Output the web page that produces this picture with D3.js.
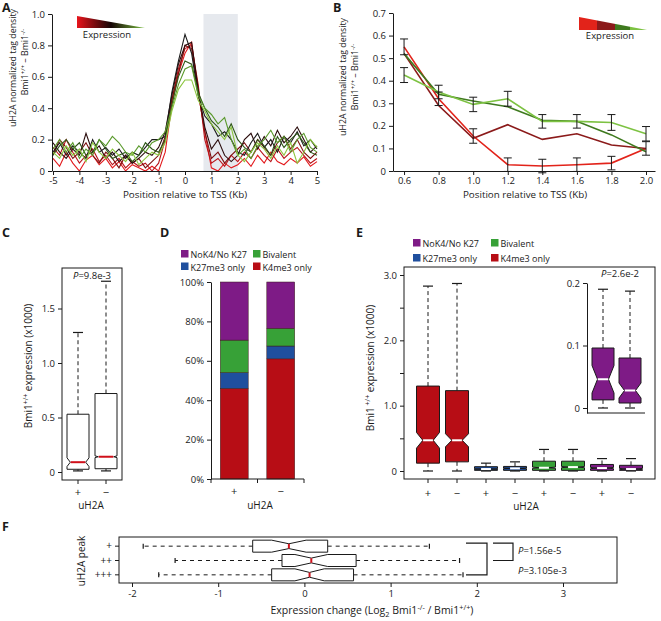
<!DOCTYPE html>
<html>
<head>
<meta charset="utf-8">
<script src="https://cdn.jsdelivr.net/npm/d3@7"></script>
<style>
  body { margin: 0; background: #fff; }
  svg { font-family: "Open Sans", sans-serif; }
</style>
</head>
<body>
<div id="chart"></div>
<script>
"use strict";

// ---- panel A : uH2A profiles around the TSS, one line per expression class
const tssPos = [-5, -4.75, -4.5, -4.25, -4, -3.75, -3.5, -3.25, -3, -2.75, -2.5, -2.25, -2, -1.75, -1.5, -1.25,
  -1, -0.75, -0.5, -0.25, 0, 0.25, 0.5, 0.75,
  1, 1.25, 1.5, 1.75, 2, 2.25, 2.5, 2.75, 3, 3.25, 3.5, 3.75, 4, 4.25, 4.5, 4.75, 5];
const profileColors = ["#e3191c", "#b8141a", "#7d0f0f", "#2a0c0c", "#1a1a1a", "#2f5719", "#5a9a2c", "#8cc63f"];
const profiles = [
  [0.08,0.03,0.12,0.05,0.0,0.07,0.1,0.04,0.08,0.02,0.06,0.0,0.04,0.02,0.0,0.03,
   0.0,0.12,0.42,0.62,0.75,0.82,0.5,0.25,
   0.02,0.0,0.05,0.02,0.04,0.08,0.03,0.1,0.05,0.12,0.06,0.04,0.08,0.05,0.09,0.03,0.06],
  [0.15,0.1,0.2,0.12,0.05,0.1,0.14,0.06,0.1,0.04,0.08,0.02,0.06,0.03,0.05,0.0,
   0.05,0.2,0.45,0.65,0.78,0.8,0.55,0.2,
   0.05,0.08,0.03,0.1,0.06,0.12,0.08,0.15,0.1,0.06,0.14,0.08,0.12,0.15,0.1,0.05,0.08],
  [0.1,0.2,0.15,0.08,0.12,0.18,0.1,0.05,0.12,0.08,0.02,0.1,0.05,0.08,0.02,0.06,
   0.1,0.22,0.45,0.62,0.8,0.78,0.5,0.25,
   0.08,0.12,0.05,0.1,0.14,0.18,0.12,0.2,0.15,0.1,0.18,0.22,0.14,0.2,0.12,0.08,0.12],
  [0.18,0.12,0.08,0.14,0.1,0.24,0.12,0.16,0.08,0.12,0.06,0.1,0.05,0.08,0.12,0.1,
   0.15,0.25,0.48,0.68,0.8,0.82,0.52,0.28,
   0.14,0.2,0.1,0.06,0.1,0.2,0.24,0.14,0.22,0.16,0.26,0.18,0.22,0.28,0.2,0.12,0.16],
  [0.12,0.18,0.1,0.16,0.12,0.08,0.2,0.12,0.15,0.1,0.14,0.08,0.12,0.1,0.15,0.2,
   0.2,0.22,0.5,0.7,0.87,0.75,0.48,0.35,
   0.3,0.22,0.25,0.2,0.12,0.1,0.18,0.24,0.15,0.2,0.12,0.22,0.18,0.25,0.16,0.2,0.14],
  [0.1,0.16,0.2,0.14,0.18,0.1,0.12,0.2,0.14,0.08,0.1,0.12,0.06,0.1,0.18,0.14,
   0.12,0.2,0.42,0.6,0.7,0.68,0.5,0.4,
   0.32,0.28,0.22,0.3,0.2,0.15,0.12,0.2,0.16,0.1,0.22,0.15,0.2,0.24,0.18,0.12,0.1],
  [0.14,0.2,0.12,0.18,0.08,0.14,0.1,0.2,0.16,0.22,0.18,0.12,0.1,0.16,0.12,0.18,
   0.2,0.25,0.4,0.55,0.65,0.67,0.48,0.4,
   0.36,0.3,0.34,0.2,0.1,0.14,0.08,0.16,0.2,0.26,0.18,0.22,0.12,0.2,0.24,0.15,0.12],
  [0.12,0.08,0.16,0.1,0.14,0.06,0.18,0.12,0.08,0.14,0.1,0.06,0.12,0.04,0.08,0.12,
   0.1,0.18,0.38,0.52,0.58,0.58,0.45,0.38,
   0.3,0.25,0.2,0.28,0.1,0.06,0.12,0.18,0.14,0.08,0.16,0.1,0.18,0.05,0.12,0.2,0.15]
];
const shadedRegion = [0.7, 2.0];
const ticksAx = [-5, -4, -3, -2, -1, 0, 1, 2, 3, 4, 5];
const ticksAy = [0, 0.2, 0.4, 0.6, 0.8, 1.0];

// ---- panel B : mean density downstream of TSS
const bPos = [0.6, 0.8, 1.0, 1.2, 1.4, 1.6, 1.8, 2.0];
const bRed        = [0.55, 0.32, 0.155, 0.028, 0.022, 0.028, 0.035, 0.10];
const bDarkRed    = [0.52, 0.29, 0.145, 0.205, 0.14, 0.165, 0.115, 0.10];
const bDarkGreen  = [0.52, 0.34, 0.31, 0.285, 0.225, 0.22, 0.16, 0.085];
const bLightGreen = [0.425, 0.35, 0.295, 0.32, 0.22, 0.22, 0.215, 0.165];
const bRedErr        = [0.035, 0.03, 0.032, 0.03, 0.03, 0.03, 0.03, 0.03];
const bLightGreenErr = [0.033, 0.03, 0.032, 0.033, 0.03, 0.03, 0.035, 0.032];
const bColors = ["#e2231a", "#8b1a1a", "#3f7a1f", "#7dc242"];
const ticksBy = [0, 0.1, 0.2, 0.3, 0.4, 0.5, 0.6, 0.7];

// ---- panel C : expression by uH2A status
const cGroups = ["+", "\u2212"];
const cLow   = [0.01, 0.01];
const cQ1    = [0.025, 0.03];
const cMed   = [0.09, 0.14];
const cQ3    = [0.53, 0.72];
const cHigh  = [1.28, 1.75];
const cNotch = [0.04, 0.008];
const ticksCy = [0, 0.5, 1.0, 1.5];

// ---- panel D : chromatin state fractions
const dGroups = ["+", "\u2212"];
const dK4   = [46, 61];
const dK27  = [8, 6.5];
const dBiv  = [16.5, 9];
const dNone = [29.5, 23.5];
const ticksDy = [0, 20, 40, 60, 80, 100];

// ---- panel E : expression per chromatin state and uH2A status
const states = ["K4me3 only", "K27me3 only", "Bivalent", "NoK4/No K27"];
const stateColors = ["#b70d15", "#1f4f9e", "#37a137", "#7e1b86"];
const eLabels = ["+", "\u2212", "+", "\u2212", "+", "\u2212", "+", "\u2212"];
const eState  = [0, 0, 1, 1, 2, 2, 3, 3];
const eLow    = [0, 0, 0, 0, 0, 0, 0, 0];
const eQ1     = [0.12, 0.14, 0.01, 0.01, 0.01, 0.01, 0.01, 0.01];
const eMed    = [0.47, 0.47, 0.03, 0.04, 0.05, 0.06, 0.045, 0.03];
const eQ3     = [1.30, 1.23, 0.066, 0.07, 0.15, 0.15, 0.10, 0.087];
const eHigh   = [2.83, 2.87, 0.12, 0.14, 0.33, 0.33, 0.19, 0.19];
const eNotch  = [0.12, 0.1, 0.005, 0.005, 0.01, 0.01, 0.01, 0.01];
const ticksEy = [0, 0.5, 1.0, 1.5, 2.0, 2.5, 3.0];
// inset (NoK4/No K27 only)
const iLow   = [0, 0];
const iQ1    = [0.013, 0.008];
const iMed   = [0.046, 0.028];
const iQ3    = [0.096, 0.08];
const iHigh  = [0.19, 0.187];
const iNotch = [0.022, 0.012];
const ticksIy = [0, 0.1, 0.2];

// ---- panel F : expression change by uH2A peak strength
const fGroups = ["+", "++", "+++"];
const fLow   = [-1.87, -1.5, -1.69];
const fQ1    = [-0.6, -0.26, -0.38];
const fMed   = [-0.18, 0.08, 0.06];
const fQ3    = [0.27, 0.6, 0.57];
const fHigh  = [1.45, 1.8, 1.84];
const fNotch = [0.2, 0.19, 0.17];
const ticksFx = [-2, -1, 0, 1, 2, 3];
const fTests = [["+", "+++", "3.105e-3"], ["+", "++", "1.56e-5"]];

const FONT = "'Open Sans', sans-serif";
const INK = "#1a1a1a";

const svg = d3.select("#chart").append("svg")
  .attr("width", 661).attr("height", 621);

function fmt1(d) { return d === 0 ? "0" : d.toFixed(1); }

function tidy(g, size) {
  g.attr("font-family", FONT).attr("font-size", null);
  g.selectAll("text").attr("font-size", size || 9.5).attr("fill", INK);
  g.selectAll("path, line").attr("stroke", INK);
}

// text made of pieces, some raised or lowered
function rich(sel, parts, size) {
  let shift = 0;
  parts.forEach(p => {
    let want = p.sup ? -size * 0.38 : (p.sub ? size * 0.25 : 0);
    let t = sel.append("tspan").text(p.t).attr("dy", want - shift);
    if (p.sup || p.sub) t.attr("font-size", size * 0.7);
    if (p.it) t.attr("font-style", "italic");
    shift = want;
  });
  return sel;
}

function label(x, y, str, opt) {
  opt = opt || {};
  return svg.append("text")
    .attr("x", x).attr("y", y)
    .attr("font-size", opt.size || 10)
    .attr("font-weight", opt.bold ? "bold" : null)
    .attr("text-anchor", opt.anchor || "middle")
    .attr("fill", INK)
    .text(str);
}

function vLabel(x, y, parts, size) {
  let t = svg.append("text")
    .attr("transform", `translate(${x},${y}) rotate(-90)`)
    .attr("font-size", size).attr("text-anchor", "middle").attr("fill", INK);
  return rich(t, parts, size);
}

// notched box, vertical or horizontal
function notchBox(g, o) {
  let c = o.c, hw = o.hw, s = o.scale, k = hw * o.inset;
  let a = s(o.q1), b = s(o.q3), m = s(o.med);
  let n1 = s(Math.max(o.med - o.notch, o.q1)), n2 = s(Math.min(o.med + o.notch, o.q3));
  let pts;
  if (o.vertical) {
    pts = [[c - hw, b], [c + hw, b], [c + hw, n2], [c + k, m], [c + hw, n1], [c + hw, a],
           [c - hw, a], [c - hw, n1], [c - k, m], [c - hw, n2]];
  } else {
    pts = [[b, c - hw], [b, c + hw], [n2, c + hw], [m, c + k], [n1, c + hw], [a, c + hw],
           [a, c - hw], [n1, c - hw], [m, c - k], [n2, c - hw]];
  }
  let P = (x, y) => o.vertical ? [x, y] : [y, x];
  // whiskers
  [[o.q3, o.high], [o.q1, o.low]].forEach(w => {
    let p1 = P(c, s(w[0])), p2 = P(c, s(w[1]));
    g.append("line").attr("x1", p1[0]).attr("y1", p1[1]).attr("x2", p2[0]).attr("y2", p2[1])
      .attr("stroke", INK).attr("stroke-dasharray", o.dash || "4,3");
    let q1 = P(c - o.cap, s(w[1])), q2 = P(c + o.cap, s(w[1]));
    g.append("line").attr("x1", q1[0]).attr("y1", q1[1]).attr("x2", q2[0]).attr("y2", q2[1])
      .attr("stroke", INK).attr("stroke-width", 1.2);
  });
  g.append("path").attr("d", "M" + pts.map(p => p.join(",")).join("L") + "Z")
    .attr("fill", o.fill).attr("stroke", INK).attr("stroke-width", 1);
  let mk = k * 0.95;
  let m1 = P(c - mk, m), m2 = P(c + mk, m);
  g.append("line").attr("x1", m1[0]).attr("y1", m1[1]).attr("x2", m2[0]).attr("y2", m2[1])
    .attr("stroke", o.medColor).attr("stroke-width", 2);
}

function wedge(g, x0, x1, y0, y1, gradId, stops) {
  let grad = svg.append("defs").append("linearGradient").attr("id", gradId);
  stops.forEach(s => {
    grad.append("stop").attr("offset", s[0]).attr("stop-color", s[1]);
  });
  g.append("polygon").attr("points", `${x0},${y0} ${x0},${y1} ${x1},${y1}`)
    .attr("fill", `url(#${gradId})`);
}

// ================= A
(function panelA() {
  const g = svg.append("g");
  const x = d3.scaleLinear().domain([-5, 5]).range([53, 317]);
  const y = d3.scaleLinear().domain([0, 1]).range([171, 14]);

  g.append("rect")
    .attr("x", x(shadedRegion[0])).attr("width", x(shadedRegion[1]) - x(shadedRegion[0]))
    .attr("y", y(1)).attr("height", y(0) - y(1))
    .attr("fill", "#e6e9ee");

  const line = d3.line().x((d, i) => x(tssPos[i])).y(d => y(d));
  profiles.forEach((p, i) => {
    g.append("path").attr("d", line(p))
      .attr("fill", "none").attr("stroke", profileColors[i]).attr("stroke-width", 1.1);
  });

  g.append("g").attr("transform", "translate(0,171)")
    .call(d3.axisBottom(x).tickValues(ticksAx).tickFormat(d => String(d)).tickSize(4).tickPadding(2).tickSizeOuter(0))
    .call(tidy);
  g.append("g").attr("transform", "translate(52,0)")
    .call(d3.axisLeft(y).tickValues(ticksAy).tickFormat(fmt1).tickSize(4).tickSizeOuter(0))
    .call(tidy);

  wedge(g, 77, 145, 16, 28, "gradA",
    [[0, "#e8141c"], [0.5, "#150505"], [1, "#7dc242"]]);
  label(107, 38, "Expression", { size: 9.5 });

  label(185, 198, "Position relative to TSS (Kb)", { size: 9.8 });
  vLabel(16, 68, [{ t: "uH2A normalized tag density" }], 8.8);
  vLabel(28, 62, [{ t: "Bmi1" }, { t: "+/+", sup: 1 }, { t: " \u2013 Bmi1" }, { t: "-/-", sup: 1 }], 8.8);
  label(2, 12, "A", { size: 12.5, bold: 1, anchor: "start" });
})();

// ================= B
(function panelB() {
  const g = svg.append("g");
  const x = d3.scaleLinear().domain([0.536, 2.052]).range([393, 655]);
  const y = d3.scaleLinear().domain([0, 0.7]).range([171, 13]);
  const line = d3.line().x((d, i) => x(bPos[i])).y(d => y(d));

  [bRed, bDarkRed, bDarkGreen, bLightGreen].forEach((s, i) => {
    g.append("path").attr("d", line(s))
      .attr("fill", "none").attr("stroke", bColors[i]).attr("stroke-width", 1.6);
  });

  [[bRed, bRedErr], [bLightGreen, bLightGreenErr]].forEach(pair => {
    pair[0].forEach((v, i) => {
      let cx = x(bPos[i]), lo = y(v - pair[1][i]), hi = y(v + pair[1][i]);
      g.append("line").attr("x1", cx).attr("x2", cx).attr("y1", lo).attr("y2", hi).attr("stroke", INK);
      [lo, hi].forEach(yy => g.append("line").attr("x1", cx - 4).attr("x2", cx + 4)
        .attr("y1", yy).attr("y2", yy).attr("stroke", INK));
    });
  });

  g.append("g").attr("transform", "translate(0,171)")
    .call(d3.axisBottom(x).tickValues(bPos).tickFormat(d => d.toFixed(1)).tickSize(4).tickPadding(2).tickSizeOuter(0))
    .call(tidy);
  g.append("g").attr("transform", "translate(393,0)")
    .call(d3.axisLeft(y).tickValues(ticksBy).tickFormat(fmt1).tickSize(4).tickSizeOuter(0))
    .call(tidy);

  wedge(g, 579, 647, 17, 30, "gradB",
    [[0, "#e2231a"], [0.27, "#e2231a"], [0.27, "#8b1a1a"], [0.53, "#8b1a1a"],
     [0.53, "#3f7a1f"], [0.75, "#3f7a1f"], [0.75, "#7dc242"], [1, "#7dc242"]]);
  label(610, 39, "Expression", { size: 9.5 });

  label(525, 198, "Position relative to TSS (Kb)", { size: 9.8 });
  vLabel(346, 77, [{ t: "uH2A normalized tag density" }], 8.8);
  vLabel(358, 77, [{ t: "Bmi1" }, { t: "+/+", sup: 1 }, { t: " \u2013 Bmi1" }, { t: "-/-", sup: 1 }], 8.8);
  label(333, 12, "B", { size: 12.5, bold: 1, anchor: "start" });
})();

// ================= C
(function panelC() {
  const g = svg.append("g");
  const y = d3.scaleLinear().domain([0, 1.5]).range([472, 308.5]);
  const x = d3.scaleBand().domain(cGroups).range([64, 120]);

  g.append("rect").attr("x", 62).attr("y", 268).attr("width", 60).attr("height", 212)
    .attr("fill", "none").attr("stroke", INK);

  cGroups.forEach((k, i) => {
    notchBox(g, {
      vertical: true, c: x(k) + x.bandwidth() / 2, hw: 11, scale: y, inset: 0.7, cap: 5,
      low: cLow[i], q1: cQ1[i], med: cMed[i], q3: cQ3[i], high: cHigh[i], notch: cNotch[i],
      fill: "#fff", medColor: "#d0101a", dash: "4,3"
    });
  });

  g.append("g").attr("transform", "translate(62,0)")
    .call(d3.axisLeft(y).tickValues(ticksCy).tickFormat(fmt1).tickSize(4).tickSizeOuter(0))
    .call(tidy).select(".domain").remove();
  g.append("g").attr("transform", "translate(0,480)")
    .call(d3.axisBottom(x).tickSize(4).tickPadding(4).tickSizeOuter(0))
    .call(tidy, 11).select(".domain").remove();

  let p = svg.append("text").attr("x", 92).attr("y", 279).attr("text-anchor", "middle")
    .attr("font-size", 9.5).attr("fill", INK);
  rich(p, [{ t: "P", it: 1 }, { t: "=9.8e-3" }], 9.5);

  label(91, 509, "uH2A", { size: 10 });
  vLabel(32, 366, [{ t: "Bmi1" }, { t: "+/+", sup: 1 }, { t: " expression (x1000)" }], 10);
  label(2, 237, "C", { size: 12.5, bold: 1, anchor: "start" });
})();

function stateLegend(x0, x1, y0, dy) {
  const order = [[3, x0, y0], [2, x1, y0], [1, x0, y0 + dy], [0, x1, y0 + dy]];
  order.forEach(o => {
    svg.append("rect").attr("x", o[1]).attr("y", o[2] - 8).attr("width", 7.5).attr("height", 7.5)
      .attr("fill", stateColors[o[0]]);
    label(o[1] + 9.5, o[2], states[o[0]], { size: 9, anchor: "start" });
  });
}

// ================= D
(function panelD() {
  const g = svg.append("g");
  const y = d3.scaleLinear().domain([0, 100]).range([479, 282]);
  const x = d3.scaleBand().domain(dGroups).range([211, 304]);
  const table = dGroups.map((k, i) => ({
    group: k, "K4me3 only": dK4[i], "K27me3 only": dK27[i], "Bivalent": dBiv[i], "NoK4/No K27": dNone[i]
  }));
  const stacked = d3.stack().keys(states)(table);
  const bw = x.bandwidth() * 0.6;

  stacked.forEach((layer, li) => {
    g.selectAll(null).data(layer).enter().append("rect")
      .attr("x", d => x(d.data.group) + (x.bandwidth() - bw) / 2)
      .attr("width", bw)
      .attr("y", d => y(d[1]))
      .attr("height", d => y(d[0]) - y(d[1]))
      .attr("fill", stateColors[li])
      .attr("stroke", "#3a1a1a").attr("stroke-width", 0.5);
  });

  g.append("g").attr("transform", "translate(211,0)")
    .call(d3.axisLeft(y).tickValues(ticksDy).tickFormat(d => d + "%").tickSize(4).tickSizeOuter(0))
    .call(tidy);
  const xa = g.append("g").attr("transform", "translate(0,479)")
    .call(d3.axisBottom(x).tickSize(0).tickPadding(8).tickSizeOuter(0))
    .call(tidy, 11);
  xa.select(".domain").attr("d", "M211,0H304");
  [211, 257.5, 304].forEach(t => xa.append("line").attr("x1", t).attr("x2", t).attr("y1", 0).attr("y2", 4)
    .attr("stroke", INK));

  label(260, 509, "uH2A", { size: 10 });
  stateLegend(181, 253, 258, 12.5);
  label(160, 237, "D", { size: 12.5, bold: 1, anchor: "start" });
})();

// ================= E
(function panelE() {
  const g = svg.append("g");
  const y = d3.scaleLinear().domain([0, 3]).range([471, 275]);
  const x = d3.scaleBand().domain(d3.range(eLabels.length)).range([413.5, 645.5]);

  g.append("rect").attr("x", 404).attr("y", 267).attr("width", 251).attr("height", 212)
    .attr("fill", "none").attr("stroke", INK);

  eLabels.forEach((k, i) => {
    notchBox(g, {
      vertical: true, c: x(i) + x.bandwidth() / 2, hw: 11.5, scale: y, inset: 0.45, cap: 5,
      low: eLow[i], q1: eQ1[i], med: eMed[i], q3: eQ3[i], high: eHigh[i], notch: eNotch[i],
      fill: stateColors[eState[i]], medColor: "#fff", dash: "4,3"
    });
  });

  g.append("g").attr("transform", "translate(404,0)")
    .call(d3.axisLeft(y).tickValues(ticksEy).tickFormat(d => Number.isInteger(d) ? fmt1(d) : "")
      .tickSize(4).tickSizeOuter(0))
    .call(tidy).select(".domain").remove();
  g.append("g").attr("transform", "translate(0,479)")
    .call(d3.axisBottom(x).tickFormat(i => eLabels[i]).tickSize(4).tickPadding(6).tickSizeOuter(0))
    .call(tidy, 11).select(".domain").remove();

  // inset
  const yi = d3.scaleLinear().domain([-0.008, 0.2]).range([413, 283]);
  const xi = d3.scaleBand().domain([0, 1]).range([589.5, 643.5]);
  [0, 1].forEach(i => {
    notchBox(g, {
      vertical: true, c: xi(i) + xi.bandwidth() / 2, hw: 11, scale: yi, inset: 0.5, cap: 5,
      low: iLow[i], q1: iQ1[i], med: iMed[i], q3: iQ3[i], high: iHigh[i], notch: iNotch[i],
      fill: stateColors[3], medColor: "#fff", dash: "4,3"
    });
  });
  g.append("g").attr("transform", "translate(587,0)")
    .call(d3.axisLeft(yi).tickValues(ticksIy).tickFormat(fmt1).tickSize(4).tickSizeOuter(0))
    .call(tidy);
  g.append("line").attr("x1", 587).attr("x2", 645).attr("y1", 413).attr("y2", 413).attr("stroke", INK);

  let p = svg.append("text").attr("x", 620).attr("y", 277).attr("text-anchor", "middle")
    .attr("font-size", 9.5).attr("fill", INK);
  rich(p, [{ t: "P", it: 1 }, { t: "=2.6e-2" }], 9.5);

  label(526, 510, "uH2A", { size: 10 });
  vLabel(374, 368, [{ t: "Bmi1" }, { t: " +/+", sup: 1 }, { t: " expression (x1000)" }], 10);
  stateLegend(413, 491, 247, 15);
  label(356, 237, "E", { size: 12.5, bold: 1, anchor: "start" });
})();

// ================= F
(function panelF() {
  const g = svg.append("g");
  const x = d3.scaleLinear().domain([-2, 3]).range([132, 563]);
  const y = d3.scaleBand().domain(fGroups).range([539, 582]);
  const cy = k => y(k) + y.bandwidth() / 2;

  g.append("rect").attr("x", 119).attr("y", 537).attr("width", 498).attr("height", 46)
    .attr("fill", "none").attr("stroke", INK);

  fGroups.forEach((k, i) => {
    notchBox(g, {
      vertical: false, c: cy(k), hw: 6, scale: x, inset: 0.4, cap: 2.5,
      low: fLow[i], q1: fQ1[i], med: fMed[i], q3: fQ3[i], high: fHigh[i], notch: fNotch[i],
      fill: "#fff", medColor: "#d0101a", dash: "4,4"
    });
  });

  g.append("g").attr("transform", "translate(0,583)")
    .call(d3.axisBottom(x).tickValues(ticksFx).tickFormat(d => String(d)).tickSize(4).tickSizeOuter(0))
    .call(tidy).select(".domain").remove();
  g.append("g").attr("transform", "translate(119,0)")
    .call(d3.axisLeft(y).tickSize(4).tickPadding(3).tickSizeOuter(0))
    .call(tidy, 10).select(".domain").remove();

  // significance brackets
  const brackets = [[466, 487], [493, 513]];
  fTests.forEach((t, i) => {
    let b = brackets[i], y1 = cy(t[0]) - 3, y2 = cy(t[1]);
    g.append("path").attr("d", `M${b[0]},${y1}H${b[1]}V${y2}H${b[0]}`)
      .attr("fill", "none").attr("stroke", INK).attr("stroke-width", 1.2);
  });
  [[554, fTests[1][2]], [574, fTests[0][2]]].forEach(p => {
    let tx = svg.append("text").attr("x", 518).attr("y", p[0]).attr("font-size", 9.5).attr("fill", INK);
    rich(tx, [{ t: "P", it: 1 }, { t: "=" + p[1] }], 9.5);
  });

  let tt = svg.append("text").attr("x", 372).attr("y", 614).attr("text-anchor", "middle")
    .attr("font-size", 10.5).attr("fill", INK);
  rich(tt, [{ t: "Expression change (Log" }, { t: "2", sub: 1 }, { t: " Bmi1" }, { t: "-/-", sup: 1 },
    { t: " / Bmi1" }, { t: "+/+", sup: 1 }, { t: ")" }], 10.5);
  vLabel(85, 561, [{ t: "uH2A peak" }], 10);
  label(2, 531, "F", { size: 12.5, bold: 1, anchor: "start" });
})();
</script>
</body>
</html>
